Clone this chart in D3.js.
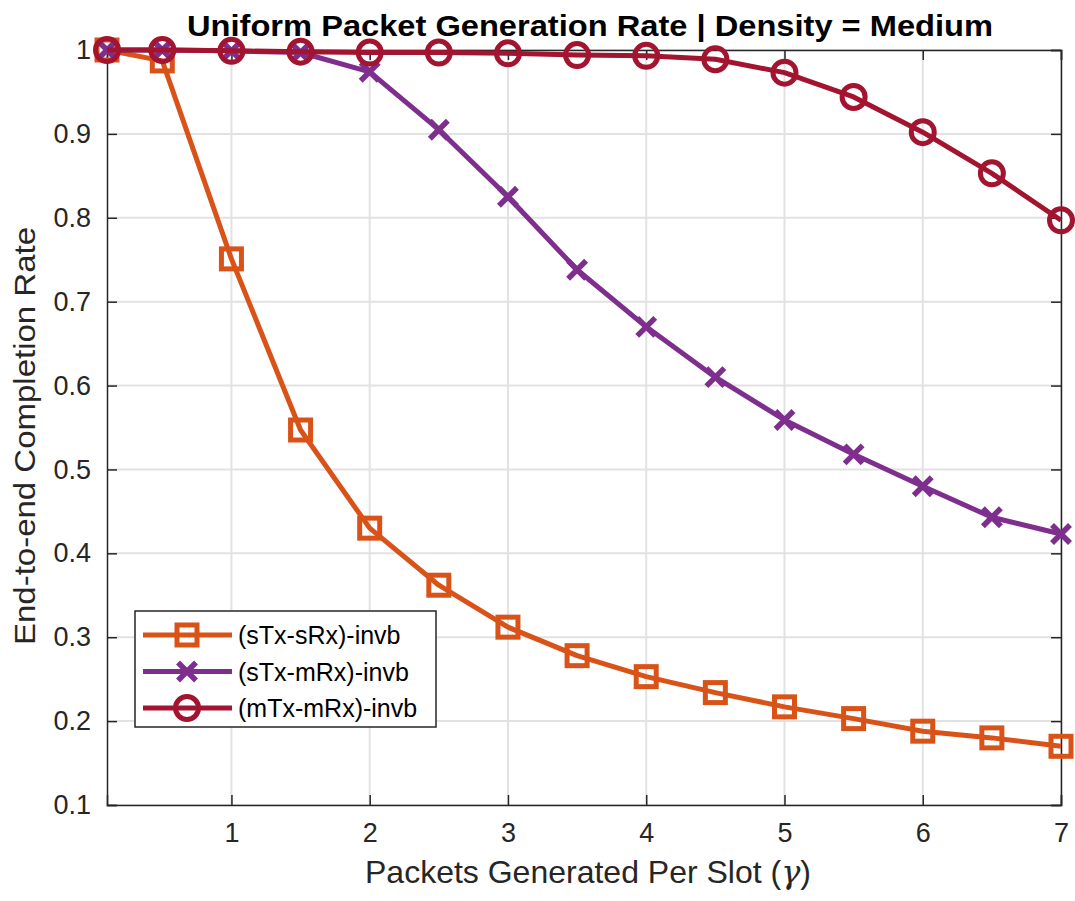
<!DOCTYPE html>
<html>
<head>
<meta charset="utf-8">
<script src="https://cdn.jsdelivr.net/npm/d3@7/dist/d3.min.js"></script>
<style>
  html, body { margin: 0; padding: 0; background: #fff; }
  svg { display: block; font-family: "Liberation Sans", Arial, Helvetica, sans-serif; }
</style>
</head>
<body>
<svg id="chart" width="1075" height="901"></svg>
<script>
// Packets generated per slot (gamma)
const gamma = [0.1, 0.5, 1, 1.5, 2, 2.5, 3, 3.5, 4, 4.5, 5, 5.5, 6, 6.5, 7];

// End-to-end completion rate per scheme
const sTxsRx = [1.0, 0.987, 0.751, 0.547, 0.430, 0.362, 0.312, 0.278, 0.253, 0.234, 0.217, 0.203, 0.188, 0.180, 0.170];
const sTxmRx = [1.0, 1.0, 0.999, 0.997, 0.974, 0.905, 0.825, 0.738, 0.670, 0.610, 0.559, 0.518, 0.480, 0.443, 0.423];
const mTxmRx = [1.0, 1.0, 0.999, 0.998, 0.997, 0.997, 0.996, 0.994, 0.993, 0.989, 0.973, 0.944, 0.902, 0.853, 0.797];

const seriesNames = ["(sTx-sRx)-invb", "(sTx-mRx)-invb", "(mTx-mRx)-invb"];
const seriesColors = ["#D95319", "#7E2F8E", "#A2142F"];
const seriesMarkers = ["square", "cross", "circle"];

const xTicks = [1, 2, 3, 4, 5, 6, 7];
const yTicks = [0.1, 0.2, 0.3, 0.4, 0.5, 0.6, 0.7, 0.8, 0.9, 1];

const titleText = "Uniform Packet Generation Rate | Density = Medium";
const xLabelText = "Packets Generated Per Slot (";
const yLabelText = "End-to-end Completion Rate";

const series = [sTxsRx, sTxmRx, mTxmRx].map((vals, i) => ({
  name: seriesNames[i],
  color: seriesColors[i],
  marker: seriesMarkers[i],
  points: gamma.map((g, j) => ({ x: g, y: vals[j] }))
}));

const svg = d3.select("#chart");
const plot = { left: 107, right: 1061, top: 50, bottom: 805 };
const axisColor = "#262626";

const x = d3.scaleLinear().domain([0.1, 7]).range([plot.left, plot.right]);
const y = d3.scaleLinear().domain([0.1, 1]).range([plot.bottom, plot.top]);

// grid
const grid = svg.append("g");
grid.selectAll("line.gx").data(xTicks).join("line")
  .attr("x1", d => x(d)).attr("x2", d => x(d))
  .attr("y1", plot.top).attr("y2", plot.bottom)
  .attr("stroke", "#e2e2e2").attr("stroke-width", 2);
grid.selectAll("line.gy").data(yTicks).join("line")
  .attr("y1", d => y(d)).attr("y2", d => y(d))
  .attr("x1", plot.left).attr("x2", plot.right)
  .attr("stroke", "#e2e2e2").attr("stroke-width", 2);

// axes (ticks point inward, box on all four sides)
const tickLen = 10;
const fontTick = 27;
const xAxisB = d3.axisBottom(x).tickValues(xTicks).tickSize(-tickLen).tickPadding(18).tickFormat(d3.format("d"));
const xAxisT = d3.axisTop(x).tickValues(xTicks).tickSize(-tickLen).tickFormat("");
const yAxisL = d3.axisLeft(y).tickValues(yTicks).tickSize(-tickLen).tickPadding(16).tickFormat(d => d === 1 ? "1" : d3.format(".1f")(d));
const yAxisR = d3.axisRight(y).tickValues(yTicks).tickSize(-tickLen).tickFormat("");

function styleAxis(g) {
  g.selectAll("path.domain").attr("stroke", axisColor).attr("stroke-width", 1.5);
  g.selectAll(".tick line").attr("stroke", axisColor).attr("stroke-width", 1.5);
  g.selectAll(".tick text").attr("fill", axisColor).style("font-size", fontTick + "px")
    .style("font-family", "'Liberation Sans', Arial, sans-serif");
}
svg.append("g").attr("transform", `translate(0,${plot.bottom})`).call(xAxisB).call(styleAxis);
svg.append("g").attr("transform", `translate(0,${plot.top})`).call(xAxisT).call(styleAxis);
svg.append("g").attr("transform", `translate(${plot.left},0)`).call(yAxisL).call(styleAxis);
svg.append("g").attr("transform", `translate(${plot.right},0)`).call(yAxisR).call(styleAxis);

// marker drawing
function drawMarker(g, type, color) {
  const sw = 5;
  if (type === "square") {
    g.append("rect").attr("x", -10).attr("y", -10).attr("width", 20).attr("height", 20)
      .attr("fill", "none").attr("stroke", color).attr("stroke-width", sw);
  } else if (type === "cross") {
    g.append("path").attr("d", "M-9,-9L9,9M-9,9L9,-9")
      .attr("fill", "none").attr("stroke", color).attr("stroke-width", sw + 0.5);
  } else {
    g.append("circle").attr("r", 11.5)
      .attr("fill", "none").attr("stroke", color).attr("stroke-width", sw);
  }
}

// series
const line = d3.line().x(d => x(d.x)).y(d => y(d.y));
series.forEach(s => {
  const g = svg.append("g");
  g.append("path").datum(s.points).attr("d", line)
    .attr("fill", "none").attr("stroke", s.color).attr("stroke-width", 5)
    .attr("stroke-linejoin", "round");
  g.selectAll("g.m").data(s.points).join("g")
    .attr("transform", d => `translate(${x(d.x)},${y(d.y)})`)
    .each(function () { drawMarker(d3.select(this), s.marker, s.color); });
});

// title
svg.append("text").attr("x", 590).attr("y", 36).attr("text-anchor", "middle")
  .attr("font-weight", "bold").attr("font-size", 30).attr("fill", "#000")
  .attr("textLength", 806).attr("lengthAdjust", "spacingAndGlyphs")
  .text(titleText);

// x label
const xl = svg.append("text").attr("x", 588).attr("y", 883).attr("text-anchor", "middle")
  .attr("font-size", 32).attr("fill", axisColor);
xl.append("tspan").text(xLabelText);
xl.append("tspan").attr("font-family", "'DejaVu Serif', 'Liberation Serif', serif").attr("font-style", "italic").text("γ");
xl.append("tspan").text(")");

// y label
svg.append("text").attr("transform", "translate(35,436) rotate(-90)").attr("text-anchor", "middle")
  .attr("font-size", 30).attr("fill", axisColor)
  .attr("textLength", 418).attr("lengthAdjust", "spacingAndGlyphs")
  .text(yLabelText);

// legend
const lg = svg.append("g").attr("transform", "translate(135,611)");
lg.append("rect").attr("width", 301).attr("height", 116).attr("fill", "#fff")
  .attr("stroke", axisColor).attr("stroke-width", 1.5);
series.forEach((s, i) => {
  const cy = 24 + i * 36.5;
  const row = lg.append("g").attr("transform", `translate(0,${cy})`);
  row.append("line").attr("x1", 8).attr("x2", 97).attr("stroke", s.color).attr("stroke-width", 5);
  const m = row.append("g").attr("transform", "translate(52,0)");
  drawMarker(m, s.marker, s.color);
  row.append("text").attr("x", 103).attr("y", 9).attr("font-size", 25).attr("fill", "#000").text(s.name);
});
</script>
</body>
</html>
